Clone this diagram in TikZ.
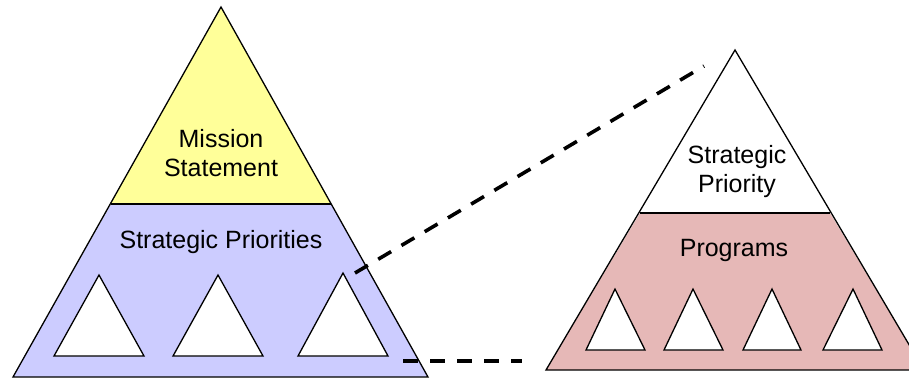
\documentclass[tikz,border=0pt]{standalone}
\usepackage{fontspec}
\setmainfont{Liberation Sans}
\definecolor{msyellow}{HTML}{FFFF99}
\definecolor{spblue}{HTML}{CCCCFF}
\definecolor{prpink}{HTML}{E6B8B7}
\begin{document}
\begin{tikzpicture}[x=1pt,y=-1pt,
  outline/.style={draw=black,line width=1.3pt,line join=miter},
  subtri/.style={outline,fill=white},
  link/.style={draw=black,line width=3.6pt,dash pattern=on 15pt off 12pt},
  lbl/.style={font=\fontsize{25}{29}\selectfont,align=center,inner sep=0pt}]
\useasboundingbox (0,0) rectangle (909,378);
\clip (0,0) rectangle (909,378);
% left pyramid
\fill[msyellow] (221,7) -- (13,377) -- (428,377) -- cycle;
\fill[spblue] (111,204) -- (331,204) -- (428,377) -- (13,377) -- cycle;
\draw[outline] (221,7) -- (13,377) -- (428,377) -- cycle;
\draw[outline] (111,204) -- (331,204);
\draw[subtri] (99,275) -- (54,356) -- (144,356) -- cycle;
\draw[subtri] (218,275) -- (173,356) -- (263,356) -- cycle;
\draw[subtri] (343,273) -- (298,356) -- (388,356) -- cycle;
\node[lbl] (mission) at (221,153) {Mission\\Statement};
\node[lbl] (prios) at (221,242) {Strategic Priorities};
% right pyramid
\fill[prpink] (640,213) -- (830,213) -- (924,370) -- (546,370) -- cycle;
\draw[outline] (735,50) -- (546,370) -- (924,370) -- cycle;
\draw[outline] (640,213) -- (830,213);
\draw[subtri] (615,289) -- (586,350) -- (645,350) -- cycle;
\draw[subtri] (693,289) -- (664,350) -- (723,350) -- cycle;
\draw[subtri] (772,289) -- (743,350) -- (801,350) -- cycle;
\draw[subtri] (853,289) -- (823,350) -- (882,350) -- cycle;
\node[lbl] (prio) at (737,172) {Strategic\\Priority};
\node[lbl] (progs) at (734,250) {Programs};
% links
\coordinate (a1) at (355,273);
\coordinate (a2) at (704,66);
\coordinate (b1) at (403,361);
\coordinate (b2) at (522,361);
\draw[link] (a1) -- (a2);
\draw[link] (b1) -- (b2);
\end{tikzpicture}
\end{document}
